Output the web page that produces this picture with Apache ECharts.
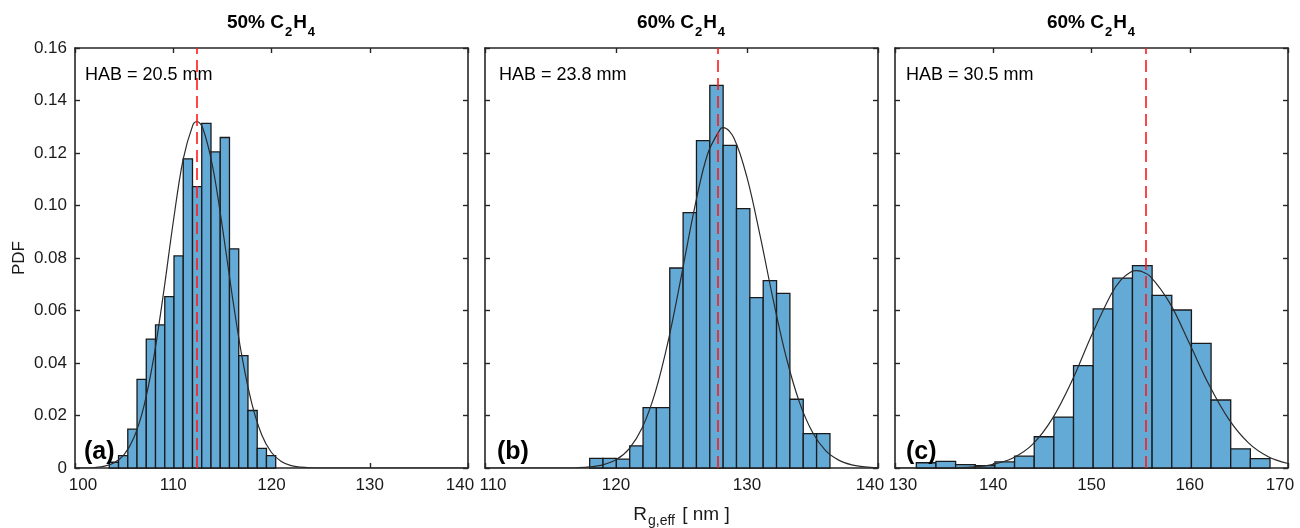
<!DOCTYPE html>
<html><head><meta charset="utf-8">
<script src="https://cdn.jsdelivr.net/npm/echarts@6/dist/echarts.min.js"></script>
<style>html,body{margin:0;padding:0;background:#fff}#c{width:1300px;height:528px}</style>
</head><body><div id="c"></div>
<script>
// ---- data ----
const panelTitleMain = ['50% C', '60% C', '60% C'];
const habLabels = ['HAB = 20.5 mm', 'HAB = 23.8 mm', 'HAB = 30.5 mm'];
const panelTags = ['(a)', '(b)', '(c)'];
const xMins = [100, 110, 130];
const xMaxs = [140, 140, 170];
const yTickLabels = ['0', '0.02', '0.04', '0.06', '0.08', '0.10', '0.12', '0.14', '0.16'];

const binStart = [103.49, 117.99, 132.17];
const binWidth = [0.941, 1.019, 2.0];
const pdfA = [0.0022, 0.0047, 0.0148, 0.0338, 0.0491, 0.0545, 0.0653, 0.0808, 0.1178, 0.1072, 0.1313, 0.1204, 0.1259, 0.0835, 0.0428, 0.0219, 0.0075, 0.0047];
const pdfB = [0.0037, 0.0037, 0.0034, 0.0084, 0.0230, 0.0230, 0.0762, 0.0973, 0.1247, 0.1458, 0.1229, 0.0988, 0.0649, 0.0714, 0.0665, 0.0262, 0.0131, 0.0131];
const pdfC = [0.0020, 0.0025, 0.0013, 0.0009, 0.0023, 0.0045, 0.0119, 0.0194, 0.0390, 0.0606, 0.0723, 0.0771, 0.0658, 0.0602, 0.0475, 0.0259, 0.0073, 0.0036];

const meanLines = [112.4, 127.76, 155.48];

const fitA = [[100,0],[101,0],[102,0.0002],[103,0.0007],[104,0.0020],[105,0.0051],[106,0.0116],[107,0.0233],[108,0.0418],[109,0.0664],[110,0.0937],[111,0.1175],[112,0.1307],[112.4,0.1320],[113,0.1295],[114,0.1150],[115,0.0918],[116,0.0657],[117,0.0423],[118,0.0245],[119,0.0127],[120,0.0059],[121,0.0025],[122,0.0009],[123,0.0003],[124,0.0001],[126,0],[130,0],[135,0],[140,0]];
const fitB = [[110,0],[114,0],[116,0],[117,0.0001],[118,0.0004],[119,0.0012],[120,0.0031],[121,0.0073],[122,0.0153],[123,0.0289],[124,0.0487],[125,0.0734],[126,0.0991],[127,0.1197],[128,0.1294],[128.2,0.1297],[129,0.1257],[130,0.1107],[131,0.0885],[132,0.0641],[133,0.0421],[134,0.0251],[135,0.0136],[136,0.0066],[137,0.0030],[138,0.0012],[139,0.0004],[140,0.0001]];
const fitC = [[130,0],[132,0],[134,0],[136,0.0001],[138,0.0004],[140,0.0014],[142,0.0038],[144,0.0090],[146,0.0187],[148,0.0331],[150,0.0505],[152,0.0662],[153,0.0717],[154,0.0747],[154.6,0.0752],[155,0.0750],[156,0.0729],[158,0.0626],[160,0.0472],[162,0.0314],[164,0.0184],[166,0.0095],[168,0.0043],[170,0.0017]];

const pdfs = [pdfA, pdfB, pdfC];
const fits = [fitA, fitB, fitC];

// ---- layout / style ----
const FONT = "'Liberation Sans', Arial, Helvetica, sans-serif";
const AX = '#262626';
const TXT = '#1a1a1a';
const gridLefts = [75, 485, 895];
const GW = 393, GT = 48, GH = 420;

const grids = [], xAxes = [], yAxes = [], series = [], graphics = [];

for (let i = 0; i < 3; i++) {
  grids.push({left: gridLefts[i], top: GT, width: GW, height: GH, containLabel: false, outerBoundsMode: 'none'});
  const lineCfg = {show: true, onZero: false, lineStyle: {color: AX, width: 1.6}};
  const tickCfg = {show: true, inside: true, length: 5, lineStyle: {color: AX, width: 1.4}};
  const lo = xMins[i], hi = xMaxs[i];
  const xb = {
    type: 'value', gridIndex: i, min: lo, max: hi, interval: 10, position: 'bottom',
    axisLine: lineCfg, axisTick: tickCfg, splitLine: {show: false},
    axisLabel: {show: true, color: TXT, fontSize: 17, fontFamily: FONT, margin: 9, showMinLabel: true, showMaxLabel: true,
      formatter: v => (v === lo ? '{l|' + v + '}' : v === hi ? '{r|' + v + '}' : '{m|' + v + '}'),
      rich: {
        l: {fontSize: 17, fontFamily: FONT, color: TXT, padding: [0, 0, 0, 16]},
        r: {fontSize: 17, fontFamily: FONT, color: TXT, padding: [0, 16, 0, 0]},
        m: {fontSize: 17, fontFamily: FONT, color: TXT}
      }}
  };
  if (i === 1) {
    xb.name = '{n|R}{s|g,eff}{n| [ nm ]}';
    xb.nameLocation = 'middle';
    xb.nameGap = 34;
    xb.nameTextStyle = {rich: {
      n: {fontSize: 19, fontFamily: FONT, color: TXT},
      s: {fontSize: 14, fontFamily: FONT, color: TXT, padding: [12, 2, 0, 1]}
    }};
  }
  xAxes.push(xb);
  xAxes.push({
    type: 'value', gridIndex: i, min: lo, max: hi, interval: 10, position: 'top',
    axisLine: lineCfg, axisTick: tickCfg, splitLine: {show: false}, axisLabel: {show: false}
  });
  const yl = {
    type: 'value', gridIndex: i, min: 0, max: 0.16, interval: 0.02, position: 'left',
    axisLine: lineCfg, axisTick: tickCfg, splitLine: {show: false},
    axisLabel: {show: i === 0, color: TXT, fontSize: 17, fontFamily: FONT, margin: 8,
      formatter: v => yTickLabels[Math.round(v / 0.02)]}
  };
  if (i === 0) {
    yl.name = 'PDF'; yl.nameLocation = 'middle'; yl.nameGap = 47; yl.nameRotate = 90;
    yl.nameTextStyle = {fontSize: 17, fontFamily: FONT, color: TXT};
  }
  yAxes.push(yl);
  yAxes.push({
    type: 'value', gridIndex: i, min: 0, max: 0.16, interval: 0.02, position: 'right',
    axisLine: lineCfg, axisTick: tickCfg, splitLine: {show: false}, axisLabel: {show: false}
  });

  const bars = pdfs[i].map((h, k) => [binStart[i] + k * binWidth[i], binStart[i] + (k + 1) * binWidth[i], h]);
  series.push({
    type: 'custom', xAxisIndex: 2 * i, yAxisIndex: 2 * i, z: 2, silent: true,
    data: bars, encode: {x: [0, 1], y: 2},
    renderItem: function (params, api) {
      const p0 = api.coord([api.value(0), api.value(2)]);
      const p1 = api.coord([api.value(1), 0]);
      return {type: 'rect', shape: {x: p0[0], y: p0[1], width: p1[0] - p0[0], height: p1[1] - p0[1]},
        style: {fill: '#64AAD7', stroke: '#1a1a1a', lineWidth: 1.3}};
    }
  });
  series.push({
    type: 'line', xAxisIndex: 2 * i, yAxisIndex: 2 * i, z: 3, silent: true,
    data: fits[i], showSymbol: false, smooth: 0.35,
    lineStyle: {color: '#2b2b2b', width: 1.2}
  });
  series.push({
    type: 'line', xAxisIndex: 2 * i, yAxisIndex: 2 * i, z: 4, silent: true,
    data: [], showSymbol: false,
    markLine: {silent: true, symbol: ['none', 'none'], label: {show: false}, animation: false,
      lineStyle: {color: '#ff1a1a', type: [12, 6], width: 1.6},
      data: [{xAxis: meanLines[i]}]}
  });

  const cx = gridLefts[i] + GW / 2;
  graphics.push({
    type: 'text', x: cx, y: 23, z: 10,
    style: {
      text: '{b|' + panelTitleMain[i] + '}{s|2}{b|H}{s|4}',
      align: 'center', verticalAlign: 'middle',
      rich: {
        b: {fontSize: 19, fontWeight: 'bold', fontFamily: FONT, fill: '#000'},
        s: {fontSize: 13, fontWeight: 'bold', fontFamily: FONT, fill: '#000', padding: [19, 1, 0, 1]}
      }
    }
  });
}

const habX = [85, 499, 906];
const tagX = [84, 497, 906];
for (let i = 0; i < 3; i++) {
  graphics.push({type: 'text', x: habX[i], y: 75, z: 10, style: {text: habLabels[i], fontSize: 18, fontFamily: FONT, fill: '#000', verticalAlign: 'middle'}});
  graphics.push({type: 'text', x: tagX[i], y: 452, z: 10, style: {text: panelTags[i], fontSize: 25, fontWeight: 'bold', fontFamily: FONT, fill: '#000', verticalAlign: 'middle'}});
}

const chart = echarts.init(document.getElementById('c'), null, {renderer: 'canvas'});
chart.setOption({
  animation: false,
  backgroundColor: '#fff',
  grid: grids, xAxis: xAxes, yAxis: yAxes, series: series, graphic: graphics
});
</script></body></html>
